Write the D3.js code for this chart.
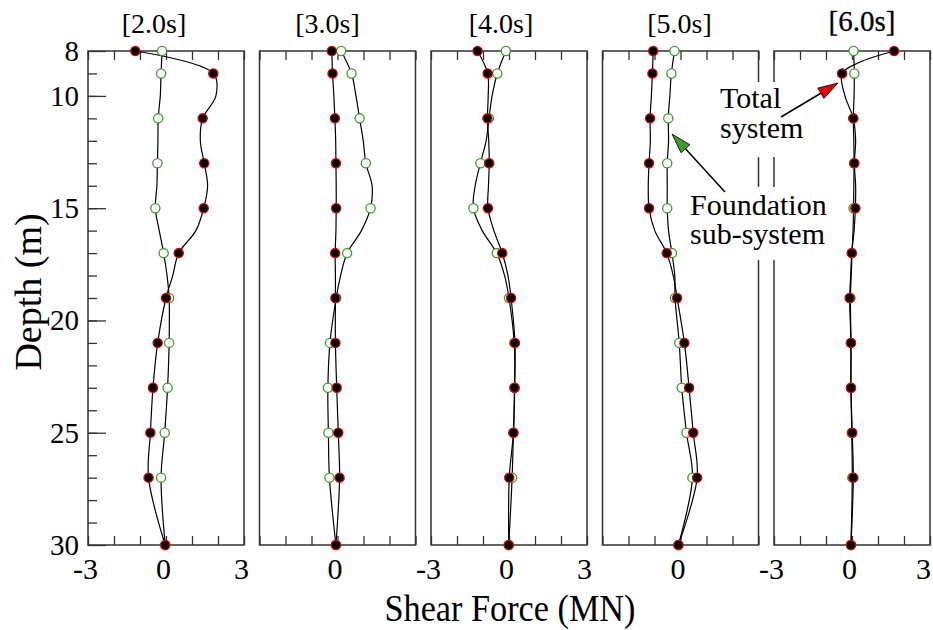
<!DOCTYPE html>
<html>
<head>
<meta charset="utf-8">
<script src="https://cdn.jsdelivr.net/npm/d3@7"></script>
<style>
  body { margin: 0; background: #fff; }
  svg text { font-family: "Liberation Serif", "Times New Roman", serif; fill: #000; }
</style>
</head>
<body>
<script>
const times = ["[2.0s]", "[3.0s]", "[4.0s]", "[5.0s]", "[6.0s]"];
const depths = [8, 8.5, 9, 10, 11, 12, 13, 14, 15, 16, 17, 18, 19, 21, 23, 25, 27, 30];
const markerDepths = [8, 9, 11, 13, 15, 17, 19, 21, 23, 25, 27, 30];
const depthTicks = [8, 10, 15, 20, 25, 30];
const forceTicks = [-3, -2, -1, 0, 1, 2, 3];

// shear force of the total system (MN), one row per snapshot, null = not read
const total = [
  [-1.18, null, 1.82, 1.92, 1.41, 1.32, 1.47, 1.60, 1.45, 1.15, 0.49, 0.26, 0.00, -0.32, -0.50, -0.60, -0.67, -0.03],
  [-0.22, null, -0.19, -0.14, -0.10, -0.07, -0.06, -0.05, -0.05, -0.06, -0.09, -0.08, -0.08, -0.08, -0.03, 0.03, 0.08, -0.06],
  [-1.21, null, -0.82, -0.80, -0.83, -0.78, -0.76, -0.79, -0.81, -0.58, -0.26, -0.04, 0.08, 0.23, 0.21, 0.17, 0.01, -0.01],
  [-1.05, null, -1.08, -1.12, -1.17, -1.16, -1.21, -1.24, -1.21, -0.99, -0.53, -0.28, -0.13, 0.15, 0.33, 0.49, 0.64, -0.08],
  [1.62, 0.30, -0.38, -0.27, 0.05, 0.14, 0.09, 0.14, 0.13, 0.08, -0.01, -0.05, -0.09, -0.04, -0.04, 0.01, 0.05, -0.04]
];

// shear force of the foundation sub-system (MN)
const foundation = [
  [-0.15, null, -0.19, -0.22, -0.30, -0.31, -0.33, -0.35, -0.41, -0.26, -0.09, 0.04, 0.12, 0.12, 0.06, -0.05, -0.19, -0.03],
  [0.14, null, 0.54, 0.71, 0.85, 0.99, 1.09, 1.33, 1.27, 0.92, 0.37, 0.12, -0.05, -0.29, -0.37, -0.35, -0.31, -0.06],
  [-0.12, null, -0.45, -0.65, -0.77, -0.88, -1.10, -1.30, -1.37, -1.03, -0.47, -0.17, 0.00, 0.20, 0.22, 0.17, 0.12, -0.01],
  [-0.23, null, -0.35, -0.41, -0.47, -0.46, -0.51, -0.51, -0.51, -0.46, -0.33, -0.22, -0.21, -0.05, 0.05, 0.23, 0.46, -0.08],
  [0.06, null, 0.09, 0.08, 0.05, 0.07, 0.08, 0.07, 0.06, 0.04, 0.00, -0.03, -0.06, -0.04, -0.04, -0.01, 0.01, -0.04]
];

const w = 933, h = 630;
const plotTop = 51, plotBottom = 545;
const panelW = 156, panelStep = 171.5, firstLeft = 88;
const titleShift = [-12, -10, -8, -1, 10];

const svg = d3.select("body").append("svg")
  .attr("width", w)
  .attr("height", h);

const y = d3.scaleLinear().domain([8, 30]).range([plotTop, plotBottom]);

const rows = vals => depths.map((d, i) => ({ depth: d, v: vals[i] })).filter(p => p.v != null);

times.forEach((t, i) => {
  const left = firstLeft + i * panelStep;
  const x = d3.scaleLinear().domain([-3, 3]).range([left, left + panelW]);
  const g = svg.append("g");

  // ticks top and bottom, pointing inward
  g.append("g")
    .attr("transform", "translate(0," + plotTop + ")")
    .call(d3.axisTop(x).tickValues(forceTicks).tickSizeInner(-9).tickSizeOuter(0).tickFormat(""))
    .call(a => a.select(".domain").remove());

  const showAll = i % 2 === 0;
  g.append("g")
    .attr("transform", "translate(0," + plotBottom + ")")
    .call(d3.axisBottom(x).tickValues(forceTicks).tickSizeInner(-9).tickSizeOuter(0).tickPadding(13)
      .tickFormat(d => (d === 0 || (showAll && Math.abs(d) === 3)) ? String(d) : ""))
    .call(a => a.select(".domain").remove())
    .call(a => a.selectAll("text").attr("font-size", 30)
      .attr("dx", d => (i === 4 && d === 3) ? -7 : -3)
      .style("font-family", '"Liberation Serif", serif'));

  g.selectAll(".tick line").attr("stroke", "#333").attr("stroke-width", 1.3);

  if (i === 0) {
    g.append("g")
      .attr("transform", "translate(" + left + ",0)")
      .call(d3.axisLeft(y).tickValues(d3.range(9, 30)).tickSizeInner(-9).tickSizeOuter(0).tickFormat(""))
      .call(a => a.select(".domain").remove());
    g.append("g")
      .attr("transform", "translate(" + left + ",0)")
      .call(d3.axisLeft(y).tickValues(depthTicks).tickSizeInner(-18).tickSizeOuter(0).tickPadding(9).tickFormat(String))
      .call(a => a.select(".domain").remove())
      .call(a => a.selectAll("text").attr("font-size", 29).style("font-family", '"Liberation Serif", serif'));
    g.selectAll(".tick line").attr("stroke", "#333").attr("stroke-width", 1.3);
  }

  g.append("rect")
    .attr("x", left)
    .attr("y", plotTop)
    .attr("width", panelW)
    .attr("height", plotBottom - plotTop)
    .attr("fill", "none")
    .attr("stroke", "#333")
    .attr("stroke-width", 1.5);

  g.append("text")
    .attr("x", left + panelW / 2 + titleShift[i])
    .attr("y", i === 4 ? 31 : 33)
    .attr("text-anchor", "middle")
    .attr("font-size", i === 4 ? 29 : 28)
    .attr("stroke", i === 4 ? "#000" : "none")
    .attr("stroke-width", 0.3)
    .text(t);

  const line = d3.line()
    .x(d => x(d.v))
    .y(d => y(d.depth))
    .curve(d3.curveCatmullRom);

  const fRows = rows(foundation[i]);
  const tRows = rows(total[i]);

  g.append("path")
    .attr("d", line(fRows))
    .attr("fill", "none")
    .attr("stroke", "#000")
    .attr("stroke-width", 1.2);

  g.append("path")
    .attr("d", line(tRows))
    .attr("fill", "none")
    .attr("stroke", "#000")
    .attr("stroke-width", 1.2);

  g.selectAll(".fnd")
    .data(fRows.filter(d => markerDepths.includes(d.depth)))
    .enter()
    .append("circle")
    .attr("cx", d => x(d.v))
    .attr("cy", d => y(d.depth))
    .attr("r", 4.6)
    .attr("fill", "#fff")
    .attr("stroke", "#3a9c2a")
    .attr("stroke-width", 1.3);

  g.selectAll(".tot")
    .data(tRows.filter(d => markerDepths.includes(d.depth)))
    .enter()
    .append("circle")
    .attr("cx", d => x(d.v))
    .attr("cy", d => y(d.depth))
    .attr("r", 4.6)
    .attr("fill", "#000")
    .attr("stroke", "#e00000")
    .attr("stroke-width", 1.3);
});

// annotations
svg.append("rect").attr("x", 714).attr("y", 82).attr("width", 94).attr("height", 75).attr("fill", "#fff");
svg.append("rect").attr("x", 685).attr("y", 187).attr("width", 150).attr("height", 73).attr("fill", "#fff");

const note = (tx, ty, s) => svg.append("text")
  .attr("x", tx).attr("y", ty).attr("font-size", 30).text(s);
note(720, 108, "Total");
note(720, 138, "system");
note(690, 215, "Foundation");
note(690, 244, "sub-system");

function arrow(x0, y0, x1, y1, color) {
  const len = Math.hypot(x1 - x0, y1 - y0);
  const ux = (x1 - x0) / len, uy = (y1 - y0) / len;
  const head = 20, half = 6;
  const bx = x1 - ux * head, by = y1 - uy * head;
  svg.append("line")
    .attr("x1", x0).attr("y1", y0).attr("x2", bx).attr("y2", by)
    .attr("stroke", "#000").attr("stroke-width", 1.5);
  svg.append("polygon")
    .attr("points", [[x1, y1], [bx - uy * half, by + ux * half], [bx + uy * half, by - ux * half]].join(" "))
    .attr("fill", color)
    .attr("stroke", "#000")
    .attr("stroke-width", 0.8);
}
arrow(781, 117, 838, 83, "#e00000");
arrow(725, 192, 672, 134, "#3a9c2a");

svg.append("text")
  .attr("transform", "translate(41,292) rotate(-90)")
  .attr("text-anchor", "middle")
  .attr("font-size", 38)
  .text("Depth (m)");

svg.append("text")
  .attr("x", 510)
  .attr("y", 621)
  .attr("text-anchor", "middle")
  .attr("font-size", 38)
  .attr("textLength", 251)
  .attr("lengthAdjust", "spacingAndGlyphs")
  .text("Shear Force (MN)");
</script>
</body>
</html>
